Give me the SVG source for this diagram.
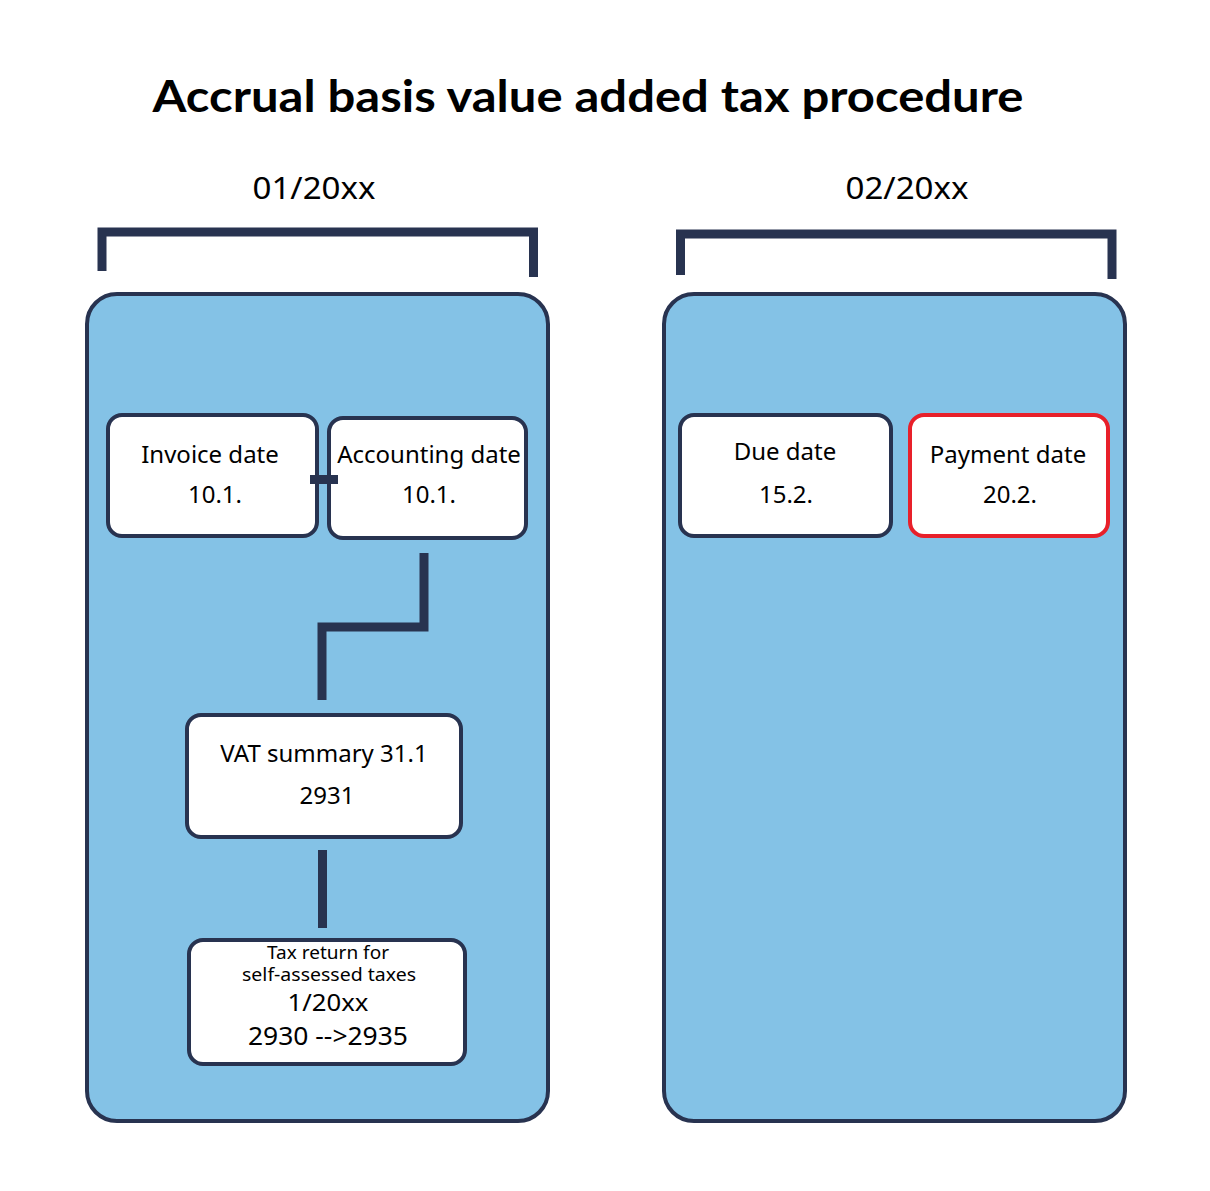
<svg xmlns="http://www.w3.org/2000/svg" width="1210" height="1191" viewBox="0 0 1210 1191">
<style>
.panel{fill:#84c2e6;stroke:#283350;stroke-width:4}
.box{fill:#fff;stroke:#283350;stroke-width:4}
.red{fill:#fff;stroke:#e8202a;stroke-width:4}
.conn{fill:none;stroke:#283350;stroke-width:9}
.t{font-family:"Noto Sans","Liberation Sans",sans-serif;fill:#000;text-anchor:middle}
.title{font-family:Lato,"Liberation Sans",sans-serif;font-weight:bold;font-size:44px;fill:#000;text-anchor:middle}
</style>
<rect width="1210" height="1191" fill="#fff"/>
<text class="title" x="588" y="112" textLength="871" lengthAdjust="spacingAndGlyphs">Accrual basis value added tax procedure</text>
<text class="t" x="314" y="199" font-size="31" textLength="123" lengthAdjust="spacingAndGlyphs">01/20xx</text>
<text class="t" x="907" y="199" font-size="31" textLength="123" lengthAdjust="spacingAndGlyphs">02/20xx</text>
<g id="brackets">
<path class="conn" d="M102 271 V232 H533.5 V277"/>
<path class="conn" d="M680.5 275 V234 H1112 V279"/>
</g>
<g id="panel1"><rect class="panel" x="87" y="294" width="461" height="827" rx="30"/></g>
<g id="panel2"><rect class="panel" x="664" y="294" width="461" height="827" rx="30"/></g>
<g id="invoice">
<rect class="box" x="108" y="415" width="209" height="121" rx="14"/>
<text class="t" x="210" y="463" font-size="24">Invoice date</text>
<text class="t" x="215" y="503" font-size="24">10.1.</text>
</g>
<g id="accounting">
<rect class="box" x="329" y="418" width="197" height="120" rx="14"/>
<text class="t" x="429" y="463" font-size="24">Accounting date</text>
<text class="t" x="429" y="503" font-size="24">10.1.</text>
</g>
<g id="vat">
<rect class="box" x="187" y="715" width="274" height="122" rx="14"/>
<text class="t" x="324" y="762" font-size="24">VAT summary 31.1</text>
<text class="t" x="327" y="804" font-size="24">2931</text>
</g>
<g id="taxreturn">
<rect class="box" x="189" y="940" width="276" height="124" rx="14"/>
<text class="t" x="328" y="959" font-size="18" textLength="122" lengthAdjust="spacingAndGlyphs">Tax return for</text>
<text class="t" x="329" y="981" font-size="18" textLength="174" lengthAdjust="spacingAndGlyphs">self-assessed taxes</text>
<text class="t" x="328" y="1011" font-size="24" textLength="81" lengthAdjust="spacingAndGlyphs">1/20xx</text>
<text class="t" x="328" y="1045" font-size="25" textLength="160" lengthAdjust="spacingAndGlyphs">2930 --&gt;2935</text>
</g>
<g id="due">
<rect class="box" x="680" y="415" width="211" height="121" rx="14"/>
<text class="t" x="785" y="460" font-size="24">Due date</text>
<text class="t" x="786" y="503" font-size="24">15.2.</text>
</g>
<g id="payment">
<rect class="red" x="910" y="415" width="198" height="121" rx="14"/>
<text class="t" x="1008" y="463" font-size="24">Payment date</text>
<text class="t" x="1010" y="503" font-size="24">20.2.</text>
</g>
<g id="connectors">
<line class="conn" x1="310" y1="479.5" x2="338" y2="479.5"/>
<path class="conn" d="M424 553 V627 H322 V700" style="stroke-linejoin:miter"/>
<line class="conn" x1="322.5" y1="850" x2="322.5" y2="928"/>
</g>
</svg>
